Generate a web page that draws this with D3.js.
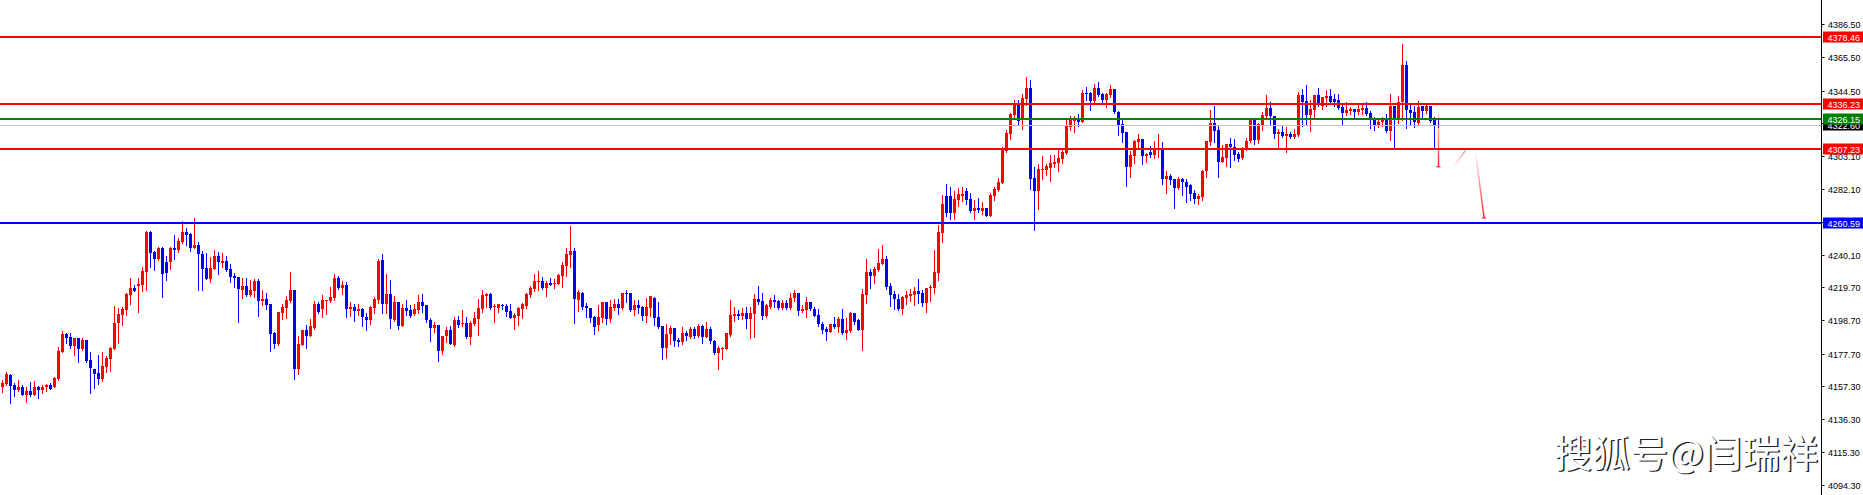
<!DOCTYPE html>
<html>
<head>
<meta charset="utf-8">
<script src="https://cdn.jsdelivr.net/npm/d3@7"></script>
<style>
html, body { margin: 0; padding: 0; background: #fff; overflow: hidden; }
svg { display: block; }
.axis-text { font-family: "Liberation Sans", Arial, sans-serif; font-size: 9px; }
.mark { font-family: "Noto Sans CJK SC", sans-serif; font-size: 38px; }
</style>
</head>
<body>
<svg class="chart" width="1863" height="495"></svg>
<script>
// candle values, oldest first
const opens = [
4156.4,4158.5,4164.4,4157.6,4154.7,4156.6,4151.7,4154.0,4151.7,4156.6,
4154.7,4156.4,4157.8,4156.8,4161.6,4179.0,4190.2,4188.3,4182.8,4187.6,
4180.7,4186.4,4173.7,4168.0,4165.4,4161.6,4169.5,4174.5,4180.6,4196.9,
4202.2,4205.3,4214.8,4219.3,4220.8,4221.2,4229.6,4254.8,4242.1,4237.7,
4244.6,4235.8,4235.6,4244.6,4243.4,4248.4,4254.6,4253.3,4244.6,4246.5,
4240.8,4231.9,4225.2,4231.5,4239.8,4235.4,4236.4,4231.5,4227.1,4226.3,
4218.2,4220.8,4214.8,4217.6,4223.7,4211.3,4212.1,4209.1,4191.0,4183.8,
4203.7,4206.8,4210.8,4218.0,4168.1,4183.4,4192.5,4189.1,4194.1,4209.1,
4206.2,4211.3,4211.3,4212.7,4225.6,4219.3,4221.2,4205.8,4207.2,4204.7,
4206.0,4200.9,4199.0,4206.8,4211.7,4237.0,4209.4,4215.5,4198.8,4210.4,
4195.4,4206.6,4205.1,4202.6,4205.3,4210.4,4208.5,4199.2,4194.1,4195.6,
4179.6,4188.9,4192.7,4183.2,4199.0,4196.3,4197.1,4188.4,4196.7,4199.8,
4206.2,4214.4,4215.5,4207.2,4206.6,4208.7,4207.7,4204.7,4200.5,4201.7,
4206.2,4207.9,4215.1,4218.9,4223.3,4223.7,4219.5,4222.5,4221.6,4221.6,
4227.1,4233.4,4240.2,4243.0,4211.9,4216.1,4208.1,4206.4,4200.9,4195.8,
4200.5,4210.4,4199.6,4206.8,4209.1,4206.8,4216.1,4216.1,4205.3,4208.5,
4207.2,4201.7,4206.8,4213.2,4200.9,4195.2,4181.5,4190.1,4193.9,4186.5,
4185.3,4190.8,4188.0,4193.3,4188.9,4195.2,4188.2,4193.3,4185.5,4178.3,
4180.6,4180.6,4189.5,4201.7,4202.8,4201.7,4203.4,4199.6,4203.0,4212.3,
4211.0,4201.7,4207.5,4211.7,4211.0,4206.8,4209.8,4206.8,4212.7,4216.1,
4204.7,4205.5,4210.4,4206.0,4202.2,4196.5,4193.3,4191.4,4196.5,4194.8,
4199.6,4190.8,4192.0,4203.4,4199.2,4192.9,4214.8,4229.4,4227.1,4230.7,
4234.6,4237.7,4220.6,4215.5,4212.6,4206.0,4213.2,4214.5,4214.9,4217.4,
4216.2,4210.0,4219.3,4219.6,4228.8,4254.4,4277.9,4277.7,4267.1,4275.3,
4277.9,4280.8,4275.8,4268.4,4270.0,4268.4,4270.0,4265.2,4277.9,4281.7,
4286.1,4306.4,4317.0,4329.0,4335.8,4325.8,4339.2,4346.1,4289.1,4280.8,
4293.9,4293.9,4295.4,4298.2,4298.6,4301.1,4304.9,4321.4,4325.2,4326.0,
4324.8,4343.2,4343.2,4338.1,4346.1,4342.3,4338.5,4341.7,4345.5,4330.9,
4323.3,4318.2,4296.0,4303.2,4312.1,4313.8,4303.2,4305.5,4303.6,4306.8,
4308.1,4288.4,4290.4,4288.4,4282.9,4288.4,4286.8,4284.7,4279.6,4276.0,
4277.3,4293.5,4312.1,4323.9,4319.5,4299.2,4301.8,4310.6,4308.9,4304.3,
4301.8,4307.0,4312.3,4325.8,4313.2,4322.7,4328.4,4333.5,4328.4,4317.0,
4318.2,4315.7,4317.0,4314.9,4316.3,4341.7,4337.9,4329.0,4332.2,4341.7,
4334.9,4339.8,4341.1,4339.2,4338.5,4334.1,4330.3,4331.8,4332.8,4330.9,
4332.2,4333.5,4330.3,4326.5,4322.0,4324.6,4325.8,4318.9,4334.7,4325.8,
4337.3,4360.7,4332.2,4330.9,4323.9,4334.7,4331.6,4334.7,4325.8,4322.7
];
const highs = [
4161.0,4165.9,4165.0,4159.1,4161.0,4157.8,4156.4,4159.7,4160.4,4157.2,
4157.8,4158.5,4159.1,4162.9,4181.9,4192.1,4191.0,4190.8,4187.6,4187.6,
4187.6,4186.4,4178.8,4168.0,4176.9,4178.8,4176.2,4181.9,4207.9,4206.8,
4207.5,4216.3,4225.6,4221.0,4225.6,4232.8,4255.2,4255.4,4242.7,4245.1,
4245.5,4239.6,4245.5,4252.9,4250.8,4261.8,4257.3,4254.4,4263.7,4248.4,
4242.5,4241.3,4238.7,4243.4,4242.3,4241.3,4239.8,4234.7,4228.6,4226.3,
4225.8,4225.8,4224.6,4224.8,4225.0,4218.0,4215.9,4209.1,4191.6,4204.3,
4208.9,4214.2,4229.4,4218.0,4189.1,4192.5,4195.8,4199.6,4211.0,4210.6,
4214.8,4211.7,4220.1,4228.2,4226.7,4223.5,4223.1,4210.6,4208.9,4209.1,
4206.4,4203.4,4207.7,4213.6,4237.7,4240.8,4228.2,4224.6,4214.4,4210.4,
4209.4,4211.7,4208.3,4208.9,4215.1,4215.5,4208.5,4200.0,4197.5,4195.6,
4188.9,4194.3,4195.4,4200.9,4201.5,4205.3,4201.1,4198.2,4204.1,4212.3,
4217.8,4216.3,4215.9,4209.4,4209.4,4209.4,4209.1,4209.1,4203.4,4207.2,
4209.8,4216.1,4220.6,4228.2,4230.1,4226.3,4223.7,4225.6,4225.2,4228.4,
4236.0,4244.6,4258.6,4244.4,4218.2,4216.5,4209.8,4206.8,4201.3,4208.5,
4210.4,4210.4,4211.7,4212.3,4212.3,4216.1,4218.0,4216.1,4211.7,4211.7,
4207.9,4213.0,4214.4,4213.6,4210.4,4195.2,4196.5,4195.0,4193.9,4187.8,
4194.6,4192.0,4194.6,4194.6,4196.5,4195.8,4197.7,4194.6,4186.3,4182.3,
4182.1,4190.8,4211.7,4207.2,4205.3,4206.4,4207.2,4207.2,4215.5,4220.6,
4215.9,4209.1,4212.7,4214.8,4211.7,4211.5,4211.7,4216.1,4218.0,4216.1,
4208.5,4213.6,4210.4,4207.2,4206.0,4197.5,4194.6,4196.5,4200.9,4200.9,
4206.0,4200.1,4204.3,4203.4,4199.6,4218.7,4237.7,4231.3,4232.8,4244.0,
4246.6,4239.6,4222.5,4217.4,4215.5,4214.3,4217.2,4218.7,4220.0,4225.0,
4218.1,4219.3,4221.2,4243.4,4259.5,4278.3,4285.3,4283.4,4280.8,4282.7,
4283.6,4282.7,4279.6,4275.1,4276.4,4273.9,4270.0,4279.6,4283.4,4289.1,
4308.9,4319.7,4330.3,4338.7,4338.7,4342.1,4353.1,4351.2,4296.0,4298.2,
4303.0,4297.9,4303.6,4303.6,4307.4,4307.9,4325.8,4328.2,4328.6,4329.6,
4344.9,4346.8,4343.6,4348.7,4349.9,4343.0,4343.0,4348.0,4345.5,4331.5,
4327.1,4318.2,4306.2,4313.4,4317.0,4313.8,4305.1,4309.4,4312.5,4317.0,
4311.9,4293.5,4291.6,4288.4,4289.7,4289.3,4288.4,4285.3,4281.5,4278.9,
4294.2,4312.5,4332.2,4334.7,4322.7,4310.0,4310.6,4314.4,4314.0,4305.6,
4308.7,4314.4,4326.5,4327.1,4323.9,4330.9,4341.7,4337.3,4328.4,4320.1,
4322.0,4321.4,4318.2,4320.1,4343.8,4345.5,4348.0,4338.5,4341.7,4346.1,
4340.4,4345.1,4345.5,4342.3,4342.3,4336.0,4337.3,4334.3,4332.8,4335.4,
4336.0,4337.3,4331.6,4327.7,4327.1,4327.7,4329.6,4342.3,4334.7,4341.1,
4374.0,4363.2,4335.4,4334.7,4337.9,4334.7,4335.4,4334.7,4327.5,4327.1
];
const lows = [
4153.6,4157.8,4146.6,4151.1,4154.0,4151.7,4147.3,4151.1,4151.7,4149.8,
4153.0,4154.2,4155.5,4156.8,4161.0,4179.0,4184.7,4181.5,4176.9,4172.4,
4180.0,4172.4,4153.0,4156.1,4158.5,4160.4,4166.3,4166.9,4180.6,4184.2,
4195.8,4202.2,4209.1,4217.4,4204.3,4217.2,4218.0,4232.8,4230.9,4237.0,
4213.8,4224.6,4231.1,4237.5,4242.3,4247.8,4246.8,4242.9,4244.4,4218.2,
4218.2,4225.0,4223.3,4231.3,4227.9,4232.6,4230.3,4223.3,4220.1,4197.9,
4213.2,4214.4,4214.4,4213.6,4201.7,4208.7,4205.8,4179.6,4181.0,4183.2,
4199.6,4200.5,4210.2,4161.8,4165.0,4183.4,4181.5,4189.1,4193.5,4203.2,
4200.9,4203.0,4210.6,4211.7,4218.7,4215.3,4201.1,4201.5,4198.6,4202.2,
4195.4,4192.9,4196.3,4203.7,4209.6,4203.7,4203.7,4194.1,4198.6,4193.5,
4195.4,4202.2,4201.1,4202.4,4203.4,4204.1,4197.5,4185.9,4191.2,4173.2,
4177.2,4185.3,4183.6,4182.3,4194.8,4195.4,4187.4,4184.0,4195.8,4189.7,
4204.3,4207.5,4205.8,4197.7,4204.3,4206.0,4201.7,4200.1,4193.5,4195.6,
4200.5,4206.4,4213.4,4217.2,4217.8,4218.9,4214.4,4221.2,4219.1,4221.6,
4220.1,4227.1,4232.8,4197.3,4204.5,4205.8,4200.9,4197.9,4190.3,4192.9,
4197.9,4196.3,4197.9,4205.5,4202.8,4206.0,4210.4,4204.7,4202.2,4203.2,
4199.0,4197.9,4201.7,4195.8,4194.1,4174.5,4175.1,4184.0,4182.7,4182.7,
4183.6,4186.3,4187.4,4187.8,4188.0,4184.6,4188.2,4184.6,4177.7,4168.1,
4174.5,4180.6,4189.1,4198.4,4199.8,4199.8,4194.1,4187.8,4188.2,4209.4,
4199.6,4201.1,4206.4,4207.2,4206.0,4206.2,4205.8,4206.0,4211.3,4202.2,
4204.1,4201.1,4205.5,4201.5,4195.4,4190.8,4186.3,4191.4,4194.1,4191.6,
4189.9,4187.0,4191.6,4196.3,4192.4,4180.0,4209.8,4219.3,4222.5,4230.1,
4234.6,4218.9,4208.1,4206.2,4205.2,4203.1,4209.0,4211.3,4208.8,4210.0,
4208.1,4203.9,4211.3,4216.4,4224.4,4248.7,4265.2,4263.3,4263.3,4271.5,
4274.7,4272.8,4267.5,4263.1,4267.7,4266.5,4265.2,4265.2,4275.1,4281.0,
4286.1,4305.8,4314.0,4326.3,4323.5,4320.1,4335.3,4282.1,4256.3,4269.4,
4288.4,4291.0,4287.2,4296.0,4293.5,4298.6,4304.3,4319.5,4318.4,4322.0,
4324.4,4338.5,4332.4,4337.5,4341.0,4337.5,4334.3,4340.4,4330.3,4316.5,
4312.1,4284.0,4289.7,4298.6,4308.7,4298.2,4299.4,4302.6,4301.7,4302.4,
4285.3,4279.8,4285.5,4270.3,4282.3,4278.5,4274.1,4275.3,4273.4,4272.8,
4275.3,4289.9,4310.2,4311.9,4289.7,4299.2,4296.7,4296.1,4300.5,4299.9,
4301.1,4306.8,4311.9,4310.6,4311.3,4319.3,4327.5,4323.3,4314.4,4307.5,
4315.1,4305.6,4314.4,4314.4,4315.7,4322.0,4323.3,4318.9,4327.3,4334.7,
4332.8,4334.9,4336.0,4334.7,4333.0,4323.3,4329.2,4329.6,4327.1,4329.6,
4329.6,4329.0,4320.8,4319.5,4321.4,4322.0,4318.2,4313.2,4307.5,4323.9,
4325.8,4320.8,4323.3,4321.4,4323.3,4327.1,4330.3,4324.6,4308.1,4321.6
];
const closes = [
4159.1,4164.8,4157.4,4154.7,4156.4,4151.7,4154.0,4151.5,4156.4,4154.9,
4156.6,4157.8,4155.5,4162.3,4179.4,4190.2,4187.8,4182.8,4187.6,4180.9,
4186.4,4173.0,4168.8,4165.0,4161.8,4169.9,4175.2,4181.3,4197.1,4202.8,
4206.0,4215.7,4219.3,4217.4,4221.8,4230.3,4255.0,4241.7,4237.7,4244.4,
4228.4,4228.6,4244.6,4243.6,4249.3,4255.0,4253.1,4244.6,4246.3,4241.0,
4231.5,4225.2,4231.9,4239.8,4235.6,4236.6,4230.9,4226.5,4225.8,4218.4,
4220.6,4214.8,4218.2,4223.5,4211.3,4212.1,4208.7,4190.3,4184.0,4204.3,
4207.2,4211.5,4217.8,4168.1,4183.8,4192.5,4189.1,4195.2,4209.1,4203.8,
4211.7,4211.7,4213.6,4225.6,4219.3,4221.2,4206.2,4207.2,4204.9,4206.0,
4200.7,4199.0,4207.2,4212.5,4236.6,4209.4,4215.5,4199.4,4210.4,4195.4,
4206.8,4204.7,4201.7,4206.0,4210.4,4208.1,4199.0,4194.1,4195.8,4179.6,
4188.9,4192.7,4183.6,4199.0,4195.8,4197.3,4188.0,4197.1,4200.1,4206.6,
4214.8,4215.5,4206.6,4208.1,4209.1,4207.7,4204.3,4200.5,4202.4,4206.6,
4208.9,4215.7,4219.5,4223.7,4223.7,4219.5,4222.5,4221.2,4222.5,4227.7,
4233.9,4240.8,4243.0,4212.3,4216.7,4207.5,4206.4,4200.5,4194.6,4200.9,
4210.4,4199.6,4207.0,4209.1,4206.6,4216.1,4215.5,4205.1,4208.5,4206.8,
4201.7,4207.2,4214.2,4200.5,4194.6,4181.5,4190.1,4193.9,4185.9,4185.3,
4190.8,4189.1,4193.3,4189.1,4195.2,4188.2,4193.3,4185.5,4178.3,4181.0,
4181.0,4190.5,4202.2,4202.8,4201.7,4203.7,4199.6,4203.4,4212.3,4210.6,
4201.7,4208.3,4211.7,4210.4,4206.8,4209.8,4206.8,4212.9,4216.1,4204.7,
4206.0,4210.4,4205.8,4201.7,4196.3,4192.9,4191.6,4196.5,4194.8,4199.6,
4191.0,4192.7,4203.7,4197.9,4192.9,4215.5,4229.4,4227.1,4231.3,4235.1,
4237.7,4220.2,4215.1,4212.1,4206.2,4213.8,4215.1,4215.5,4217.4,4215.7,
4210.0,4219.3,4220.0,4229.5,4255.0,4272.8,4267.1,4267.1,4275.8,4278.9,
4278.9,4275.3,4268.2,4270.0,4269.0,4270.0,4265.2,4278.5,4282.3,4286.7,
4307.0,4317.6,4329.6,4335.8,4325.4,4339.6,4346.1,4288.4,4280.8,4294.8,
4295.0,4296.5,4298.8,4299.4,4301.7,4305.8,4322.0,4326.0,4326.0,4324.8,
4343.2,4342.5,4338.1,4346.1,4341.7,4338.7,4342.3,4345.5,4330.9,4322.9,
4317.8,4296.0,4303.6,4312.5,4313.8,4303.2,4304.5,4303.6,4307.4,4308.1,
4288.4,4290.3,4288.0,4282.9,4288.4,4286.8,4283.4,4279.2,4276.0,4277.9,
4293.5,4312.5,4323.9,4319.1,4299.2,4302.4,4310.6,4308.7,4303.7,4301.1,
4307.5,4312.5,4325.8,4313.2,4323.3,4329.0,4333.5,4328.4,4317.2,4318.2,
4315.7,4317.0,4315.1,4317.0,4341.7,4337.3,4329.0,4332.8,4341.7,4336.0,
4340.4,4341.1,4337.3,4337.3,4333.5,4330.3,4332.2,4332.8,4330.9,4332.8,
4333.5,4329.6,4326.5,4322.0,4324.6,4325.8,4318.9,4334.7,4325.8,4337.3,
4360.7,4332.2,4330.3,4324.6,4334.1,4331.6,4334.7,4325.2,4322.0,4322.6
];

// price scale labels on the right (two more sit hidden under the price tags)
const tickLabels = ["4386.50","4365.50","4344.50","4303.10","4282.10",
  "4240.10","4219.70","4198.70","4177.70","4157.30","4136.30","4115.30","4094.30"];
const hiddenTicks = [4323.80, 4261.10];

// horizontal levels drawn on the chart
const resistLevels = [4378.46, 4336.23, 4307.23];
const pivotLevels = [4326.15];
const supportLevels = [4260.59];
const lastPrice = 4322.60;

// hand drawn arrows: [bar from, price from, bar to, price to]
const arrowLines = [
  [359, 4335.3, 359, 4296.2],
  [362.75, 4296.2, 365.7, 4306.4],
  [368.2, 4306.2, 370.4, 4263.7]
];

const watermark = "搜狐号@闫瑞祥";

var svg = d3.select(".chart");
var width = +svg.attr("width");
var height = +svg.attr("height");
let axisX = 1821.5;

let xScale = d3.scaleLinear().domain([0, opens.length - 1]).range([2.5, 1438.5]);
let yScale = d3.scaleLinear().domain([4094.3, 4386.5]).range([485.1, 24.3]);

let candles = opens.map((o, i) => ({i: i, o: o, h: highs[i], l: lows[i], c: closes[i]}));
let upColor = "#ff0000";
let downColor = "#0000ff";

let g = svg.append("g");

// wicks
g.selectAll(".wick")
 .data(candles)
 .enter().append("line")
 .attr("class", "wick")
 .attr("x1", d => xScale(d.i))
 .attr("x2", d => xScale(d.i))
 .attr("y1", d => Math.round(yScale(d.h)))
 .attr("y2", d => Math.round(yScale(d.l)) + 1)
 .attr("stroke", d => d.c >= d.o ? upColor : downColor)
 .attr("stroke-width", 1);

// bodies
g.selectAll(".body")
 .data(candles)
 .enter().append("rect")
 .attr("class", "body")
 .attr("x", d => xScale(d.i) - 1.5)
 .attr("width", 3)
 .attr("y", d => Math.round(yScale(Math.max(d.o, d.c))))
 .attr("height", d => Math.max(1, Math.round(yScale(Math.min(d.o, d.c))) - Math.round(yScale(Math.max(d.o, d.c)))))
 .attr("fill", d => d.c >= d.o ? upColor : downColor)
 .attr("shape-rendering", "crispEdges");

// level lines
let levels = [];
resistLevels.forEach(p => levels.push({p: p, color: "#ff0000"}));
pivotLevels.forEach(p => levels.push({p: p, color: "#008000"}));
supportLevels.forEach(p => levels.push({p: p, color: "#0000ff"}));

svg.append("line")
   .attr("x1", 0).attr("x2", axisX)
   .attr("y1", Math.round(yScale(lastPrice)) + 0.5)
   .attr("y2", Math.round(yScale(lastPrice)) + 0.5)
   .attr("stroke", "#c0c0c0").attr("stroke-width", 1);

levels.forEach(lv => {
	let y = Math.round(yScale(lv.p));
	svg.append("line")
	   .attr("x1", 0).attr("x2", axisX)
	   .attr("y1", y).attr("y2", y)
	   .attr("stroke", lv.color).attr("stroke-width", 2)
	   .attr("shape-rendering", "crispEdges");
});

// arrows (faded towards the tail)
let defs = svg.append("defs");
arrowLines.forEach((a, k) => {
	let x1 = xScale(a[0]), y1 = yScale(a[1]), x2 = xScale(a[2]), y2 = yScale(a[3]);
	let grad = defs.append("linearGradient")
	   .attr("id", "fade" + k)
	   .attr("gradientUnits", "userSpaceOnUse")
	   .attr("x1", x1).attr("y1", y1).attr("x2", x2).attr("y2", y2);
	grad.append("stop").attr("offset", 0).attr("stop-color", "#ff0000").attr("stop-opacity", 0);
	grad.append("stop").attr("offset", 1).attr("stop-color", "#ff0000").attr("stop-opacity", k == 1 ? 0.45 : 0.85);
	svg.append("line")
	   .attr("x1", x1).attr("y1", y1).attr("x2", x2).attr("y2", y2)
	   .attr("stroke", "url(#fade" + k + ")")
	   .attr("stroke-width", 1.5);
	if (k != 1) {
		svg.append("line")
		   .attr("x1", x2 - 2).attr("x2", x2 + 2)
		   .attr("y1", y2).attr("y2", y2)
		   .attr("stroke", "#ff4040").attr("stroke-width", 1.5);
	}
});

// right price axis
svg.append("rect")
   .attr("x", axisX + 0.5).attr("y", 0)
   .attr("width", width - axisX).attr("height", height)
   .attr("fill", "#fff");

svg.append("line")
   .attr("x1", axisX).attr("x2", axisX)
   .attr("y1", 0).attr("y2", height)
   .attr("stroke", "#000").attr("stroke-width", 1);

hiddenTicks.forEach(t => {
	let y = Math.round(yScale(t)) + 0.5;
	svg.append("line")
	   .attr("x1", axisX).attr("x2", axisX + 3)
	   .attr("y1", y).attr("y2", y)
	   .attr("stroke", "#000");
});

tickLabels.forEach(t => {
	let y = Math.round(yScale(+t)) + 0.5;
	svg.append("line")
	   .attr("x1", axisX).attr("x2", axisX + 3)
	   .attr("y1", y).attr("y2", y)
	   .attr("stroke", "#000");
	svg.append("text")
	   .attr("class", "axis-text")
	   .attr("x", 1828)
	   .attr("y", y + 3.3)
	   .attr("fill", "#000")
	   .text(t);
});

function priceTag(p, bg) {
	let y = Math.round(yScale(p));
	svg.append("rect")
	   .attr("x", axisX + 1.5).attr("y", y - 5.5)
	   .attr("width", width - axisX).attr("height", 11)
	   .attr("fill", bg);
	svg.append("text")
	   .attr("class", "axis-text")
	   .attr("x", 1827.5)
	   .attr("y", y + 3.5)
	   .attr("fill", "#fff")
	   .text(p.toFixed(2));
}

priceTag(lastPrice, "#000");
levels.forEach(lv => priceTag(lv.p, lv.color));

// watermark
svg.append("text")
   .attr("class", "mark")
   .attr("text-anchor", "end")
   .attr("x", 1819.5).attr("y", 468)
   .attr("fill", "#222")
   .text(watermark);
svg.append("text")
   .attr("class", "mark")
   .attr("text-anchor", "end")
   .attr("x", 1818).attr("y", 466.5)
   .attr("fill", "#fff")
   .text(watermark);
</script>
</body>
</html>
